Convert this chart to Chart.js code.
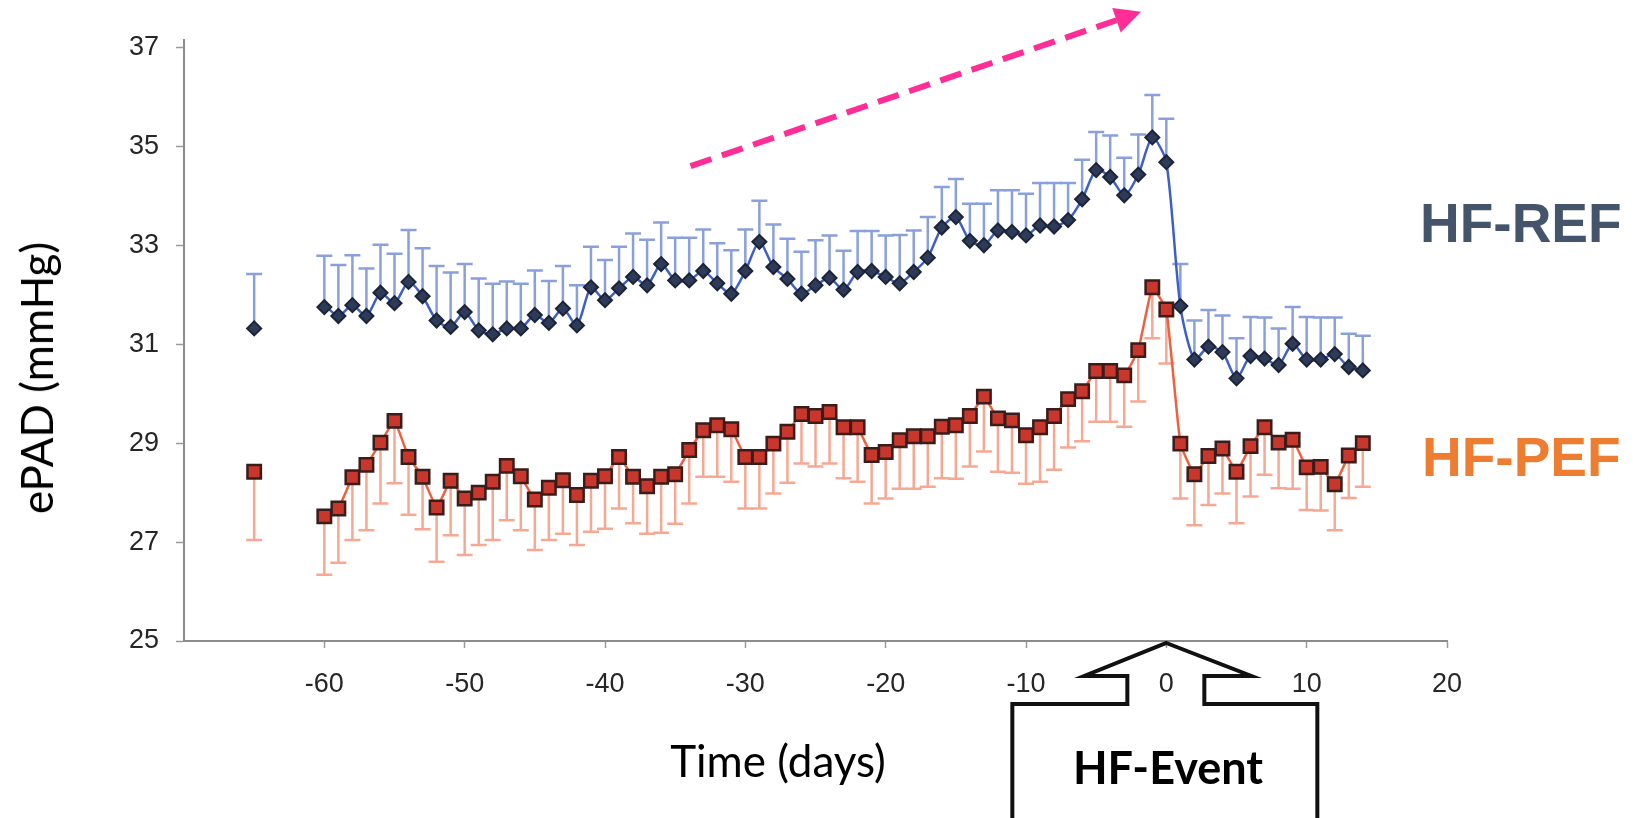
<!DOCTYPE html>
<html lang="en">
<head>
<meta charset="utf-8">
<title>ePAD around HF event</title>
<script src="https://cdn.jsdelivr.net/npm/chart.js@4.4.1/dist/chart.umd.min.js"></script>
<style>
  html, body { margin: 0; padding: 0; background: #fff; }
  #wrap { position: relative; width: 1637px; height: 818px; overflow: hidden; background: #fff; }
  #chart { position: absolute; left: 0; top: 0; }
  .txt { position: absolute; white-space: nowrap; line-height: 1; }
  #yTitle { left: 36px; top: 378px; font: 44px "Lato", sans-serif; color: #000;
            transform: translate(-50%, -50%) rotate(-90deg); }
  #xTitle { left: 778px; top: 760px; font: 44px "Lato", sans-serif; color: #000;
            transform: translate(-50%, -50%); }
  #refLabel { left: 1420px; top: 223px; font: bold 55px "Liberation Sans", Arial, sans-serif; color: #44546a;
              transform: translate(0, -50%); }
  #pefLabel { left: 1422px; top: 457px; font: bold 55px "Liberation Sans", Arial, sans-serif; color: #ed7d31;
              transform: translate(0, -50%); }
  #eventLabel { left: 1168px; top: 767px; font: bold 45px "Lato", sans-serif; color: #000;
                transform: translate(-50%, -50%); }
</style>
</head>
<body>
<div id="wrap">
  <canvas id="chart" width="1637" height="818"></canvas>
  <div class="txt" id="yTitle">ePAD (mmHg)</div>
  <div class="txt" id="xTitle">Time (days)</div>
  <div class="txt" id="refLabel">HF-REF</div>
  <div class="txt" id="pefLabel">HF-PEF</div>
  <div class="txt" id="eventLabel">HF-Event</div>
</div>
<script>
// days relative to the HF event (first point = baseline)
const days = [-65,
  -60, -59, -58, -57, -56, -55, -54, -53, -52, -51,
  -50, -49, -48, -47, -46, -45, -44, -43, -42, -41,
  -40, -39, -38, -37, -36, -35, -34, -33, -32, -31,
  -30, -29, -28, -27, -26, -25, -24, -23, -22, -21,
  -20, -19, -18, -17, -16, -15, -14, -13, -12, -11,
  -10, -9, -8, -7, -6, -5, -4, -3, -2, -1,
  0, 1, 2, 3, 4, 5, 6, 7, 8, 9,
  10, 11, 12, 13, 14];

// HF-REF mean ePAD and upper error
const refMean = [31.32,
  31.75, 31.57, 31.79, 31.57, 32.04, 31.83, 32.26, 31.97, 31.48, 31.35,
  31.65, 31.28, 31.20, 31.32, 31.32, 31.59, 31.43, 31.72, 31.38, 32.15,
  31.89, 32.13, 32.36, 32.19, 32.62, 32.29, 32.29, 32.48, 32.23, 32.02,
  32.48, 33.07, 32.56, 32.32, 32.02, 32.19, 32.34, 32.10, 32.46, 32.48,
  32.36, 32.23, 32.46, 32.75, 33.36, 33.57, 33.09, 33.00, 33.30, 33.27,
  33.20, 33.40, 33.38, 33.51, 33.93, 34.52, 34.38, 34.01, 34.43, 35.18,
  34.68, 31.77, 30.69, 30.95, 30.84, 30.31, 30.76, 30.71, 30.58, 31.01,
  30.69, 30.69, 30.80, 30.54, 30.47];
const refErr = [1.10,
  1.04, 1.03, 1.01, 0.96, 0.97, 1.00, 1.05, 0.97, 1.10, 1.10,
  0.97, 1.05, 1.02, 0.95, 0.90, 0.90, 0.85, 0.86, 0.81, 0.82,
  0.81, 0.84, 0.88, 0.92, 0.84, 0.86, 0.86, 0.84, 0.81, 0.88,
  0.84, 0.83, 0.86, 0.81, 0.85, 0.91, 0.86, 0.79, 0.83, 0.81,
  0.84, 0.98, 0.84, 0.82, 0.82, 0.77, 0.75, 0.84, 0.81, 0.84,
  0.84, 0.86, 0.88, 0.75, 0.80, 0.77, 0.84, 0.76, 0.81, 0.86,
  0.88, 0.85, 0.79, 0.74, 0.74, 0.81, 0.79, 0.83, 0.74, 0.74,
  0.86, 0.85, 0.74, 0.67, 0.70];

// HF-PEF mean ePAD and lower error
const pefMean = [28.42,
  27.52, 27.68, 28.31, 28.56, 29.01, 29.45, 28.72, 28.32, 27.70, 28.24,
  27.88, 28.00, 28.22, 28.54, 28.33, 27.86, 28.10, 28.25, 27.95, 28.24,
  28.33, 28.72, 28.32, 28.13, 28.32, 28.37, 28.86, 29.26, 29.36, 29.28,
  28.72, 28.72, 28.99, 29.23, 29.59, 29.55, 29.63, 29.32, 29.32, 28.76,
  28.82, 29.06, 29.14, 29.14, 29.33, 29.36, 29.55, 29.94, 29.50, 29.46,
  29.16, 29.32, 29.55, 29.89, 30.05, 30.46, 30.46, 30.37, 30.88, 32.15,
  31.70, 28.99, 28.37, 28.74, 28.89, 28.42, 28.94, 29.32, 29.01, 29.07,
  28.51, 28.52, 28.17, 28.75, 29.00];
const pefErr = [1.38,
  1.18, 1.10, 1.27, 1.32, 1.23, 1.26, 1.17, 1.06, 1.10, 1.10,
  1.14, 1.06, 1.18, 1.10, 1.09, 1.02, 1.06, 1.08, 1.01, 1.03,
  1.06, 1.04, 0.94, 0.96, 1.13, 1.00, 1.08, 0.94, 1.04, 1.06,
  1.04, 1.04, 1.01, 1.03, 1.00, 1.02, 1.04, 1.03, 1.10, 0.98,
  0.94, 0.98, 1.06, 1.02, 1.04, 1.08, 1.02, 1.11, 1.08, 1.06,
  0.98, 1.10, 1.09, 0.98, 1.01, 1.03, 1.03, 1.04, 1.04, 1.03,
  1.09, 1.11, 1.03, 0.99, 0.91, 1.04, 1.02, 0.96, 0.92, 0.99,
  0.86, 0.88, 0.93, 0.86, 0.88];

const xTicks = [-60, -50, -40, -30, -20, -10, 0, 10, 20];
const yTicks = [25, 27, 29, 31, 33, 35, 37];

const toPoints = (vals) => days.map((d, i) => ({ x: d, y: vals[i] }));

// no line between the baseline point and day -60
const gapColor = (color) => (ctx) => (ctx.p0.parsed.x < -61 ? "rgba(0,0,0,0)" : color);

// whiskers: upward for HF-REF, downward for HF-PEF
const errorBars = {
  id: "errorBars",
  beforeDatasetsDraw(chart) {
    const { ctx } = chart;
    const yScale = chart.scales.y;
    chart.data.datasets.forEach((ds, di) => {
      const meta = chart.getDatasetMeta(di);
      ctx.save();
      ctx.strokeStyle = ds.errColor;
      ctx.lineWidth = 2.5;
      meta.data.forEach((pt, i) => {
        const end = yScale.getPixelForValue(ds.data[i].y + ds.errDir * ds.errors[i]);
        ctx.beginPath();
        ctx.moveTo(pt.x, pt.y);
        ctx.lineTo(pt.x, end);
        ctx.moveTo(pt.x - 8, end);
        ctx.lineTo(pt.x + 8, end);
        ctx.stroke();
      });
      ctx.restore();
    });
  },
};

// pink trend arrow + HF-Event callout
const annotations = {
  id: "annotations",
  afterDraw(chart) {
    const { ctx } = chart;
    const { x, y } = chart.scales;

    // trend arrow
    const x0 = x.getPixelForValue(-33.9), y0 = y.getPixelForValue(34.6);
    const x1 = x.getPixelForValue(-1.8), y1 = y.getPixelForValue(37.72);
    const ang = Math.atan2(y1 - y0, x1 - x0);
    const headLen = 26, headHalf = 13;
    const bx = x1 - headLen * Math.cos(ang), by = y1 - headLen * Math.sin(ang);
    ctx.save();
    ctx.strokeStyle = "#ff2d95";
    ctx.fillStyle = "#ff2d95";
    ctx.lineWidth = 6;
    ctx.setLineDash([22, 11]);
    ctx.beginPath();
    ctx.moveTo(x0, y0);
    ctx.lineTo(bx, by);
    ctx.stroke();
    ctx.setLineDash([]);
    ctx.beginPath();
    ctx.moveTo(x1, y1);
    ctx.lineTo(bx + headHalf * Math.sin(ang), by - headHalf * Math.cos(ang));
    ctx.lineTo(bx - headHalf * Math.sin(ang), by + headHalf * Math.cos(ang));
    ctx.closePath();
    ctx.fill();
    ctx.restore();

    // block arrow pointing at day 0
    const tx = x.getPixelForValue(0);
    const ty = y.getPixelForValue(25) + 2;
    const pts = [
      [0, 0], [85, 33], [38, 33], [38, 61], [151, 61], [151, 178],
      [-154, 178], [-154, 61], [-39, 61], [-39, 33], [-82, 33],
    ];
    ctx.save();
    ctx.strokeStyle = "#111";
    ctx.lineWidth = 4;
    ctx.lineJoin = "miter";
    ctx.beginPath();
    pts.forEach(([dx, dy], i) => (i ? ctx.lineTo(tx + dx, ty + dy) : ctx.moveTo(tx + dx, ty + dy)));
    ctx.closePath();
    ctx.stroke();
    ctx.restore();
  },
};

new Chart(document.getElementById("chart"), {
  type: "line",
  data: {
    datasets: [
      {
        label: "HF-REF",
        data: toPoints(refMean),
        errors: refErr,
        errDir: 1,
        errColor: "#8aa0dc",
        borderColor: "#3d5fc9",
        borderWidth: 2.5,
        tension: 0.25,
        segment: { borderColor: gapColor("#3d5fc9") },
        pointStyle: "rectRot",
        pointRadius: 7,
        pointBorderWidth: 2,
        pointBackgroundColor: "#2e3b58",
        pointBorderColor: "#1b2438",
      },
      {
        label: "HF-PEF",
        data: toPoints(pefMean),
        errors: pefErr,
        errDir: -1,
        errColor: "#f7a892",
        borderColor: "#f0603e",
        borderWidth: 2.5,
        tension: 0.1,
        segment: { borderColor: gapColor("#f0603e") },
        pointStyle: "rect",
        pointRadius: 9.5,
        pointBorderWidth: 2.5,
        pointBackgroundColor: "#c8362c",
        pointBorderColor: "#3a1d1a",
      },
    ],
  },
  options: {
    responsive: false,
    animation: false,
    devicePixelRatio: 1,
    layout: { padding: { top: 40, right: 190, bottom: 0, left: 0 } },
    plugins: { legend: { display: false }, tooltip: { enabled: false } },
    scales: {
      x: {
        type: "linear",
        min: -70,
        max: 20,
        afterBuildTicks: (s) => { s.ticks = xTicks.map((v) => ({ value: v })); },
        afterFit: (s) => { s.height = 177; },
        grid: { drawOnChartArea: false, tickLength: 7, tickColor: "#9a9a9a", tickWidth: 1.5 },
        border: { color: "#8c8c8c", width: 2 },
        ticks: {
          autoSkip: false,
          maxRotation: 0,
          padding: 20,
          color: "#262626",
          font: { family: "Liberation Sans", size: 27 },
        },
      },
      y: {
        min: 25,
        max: 37.15,
        afterBuildTicks: (s) => { s.ticks = yTicks.map((v) => ({ value: v })); },
        afterFit: (s) => { s.width = 184; },
        grid: { drawOnChartArea: false, tickLength: 8, tickColor: "#9a9a9a", tickWidth: 1.5 },
        border: { color: "#8c8c8c", width: 2 },
        ticks: {
          padding: 17,
          color: "#262626",
          font: { family: "Liberation Sans", size: 27 },
        },
      },
    },
  },
  plugins: [errorBars, annotations],
});
</script>
</body>
</html>
